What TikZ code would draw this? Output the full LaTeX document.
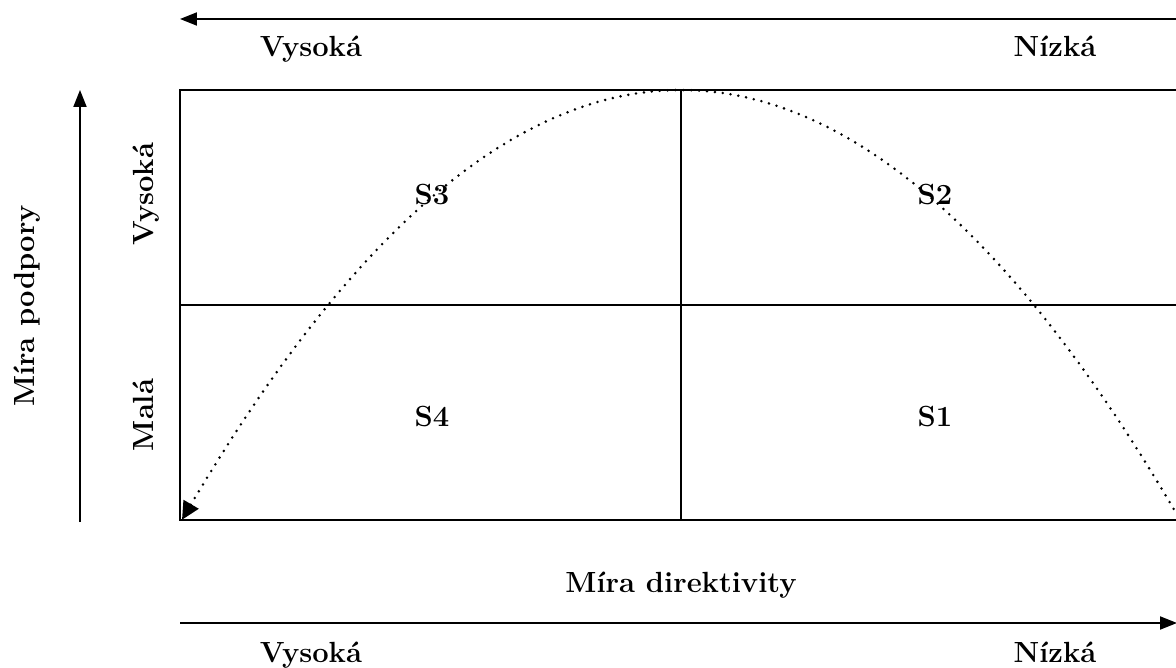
\documentclass[tikz,border=0pt]{standalone}
\usetikzlibrary{arrows.meta}
\tikzset{
  lbl/.style={font=\fontsize{16.6}{20}\selectfont\bfseries, inner sep=0pt, anchor=base},
  axis/.style={line width=1.1pt, -{Triangle[length=0.34cm, width=0.26cm]}},
  boxline/.style={line width=0.7pt},
  curve/.style={line width=1.6pt, line cap=round, dash pattern=on 0pt off 4.5pt,
      {Triangle[length=0.36cm, width=0.34cm]}-},
}

\begin{document}
\begin{tikzpicture}[x=0.02cm, y=-0.02cm]
  \useasboundingbox (0,0) rectangle (1176,668);
  \clip (0,0) rectangle (1176,668);
  % quadrants
  \coordinate (nw) at (180,90);
  \coordinate (se) at (1182,520);
  \coordinate (nmid) at (681,90);
  \coordinate (smid) at (681,520);
  \coordinate (wmid) at (180,305);
  \coordinate (emid) at (1182,305);
  \draw[boxline] (nw) rectangle (se);
  \draw[boxline] (nmid) -- (smid);
  \draw[boxline] (wmid) -- (emid);
  % life cycle curve
  \draw[curve] plot[domain=182:1180, samples=80] (\x, {90 + 17.26*((\x-681)/100)^2});
  \node[lbl] (s3) at (432,205) {S3};
  \node[lbl] (s2) at (935,205) {S2};
  \node[lbl] (s4) at (432,427) {S4};
  \node[lbl] (s1) at (935,427) {S1};
  % top axis
  \coordinate (topR) at (1177,19);
  \coordinate (topL) at (180,19);
  \draw[axis] (topR) -- (topL);
  \node[lbl] (topHi) at (311,57) {Vysoká};
  \node[lbl] (topLo) at (1055,57) {Nízká};
  % bottom axis
  \coordinate (botL) at (180,623);
  \coordinate (botR) at (1177,623);
  \draw[axis] (botL) -- (botR);
  \node[lbl] (dirTitle) at (681,592) {Míra direktivity};
  \node[lbl] (botHi) at (311,662) {Vysoká};
  \node[lbl] (botLo) at (1055,662) {Nízká};
  % left axis
  \coordinate (leftB) at (80,522);
  \coordinate (leftT) at (80,90);
  \draw[axis] (leftB) -- (leftT);
  \node[lbl, rotate=90] (supTitle) at (34,306) {Míra podpory};
  \node[lbl, rotate=90] (supHi) at (153,194) {Vysoká};
  \node[lbl, rotate=90] (supLo) at (153,415) {Malá};
\end{tikzpicture}
\end{document}
